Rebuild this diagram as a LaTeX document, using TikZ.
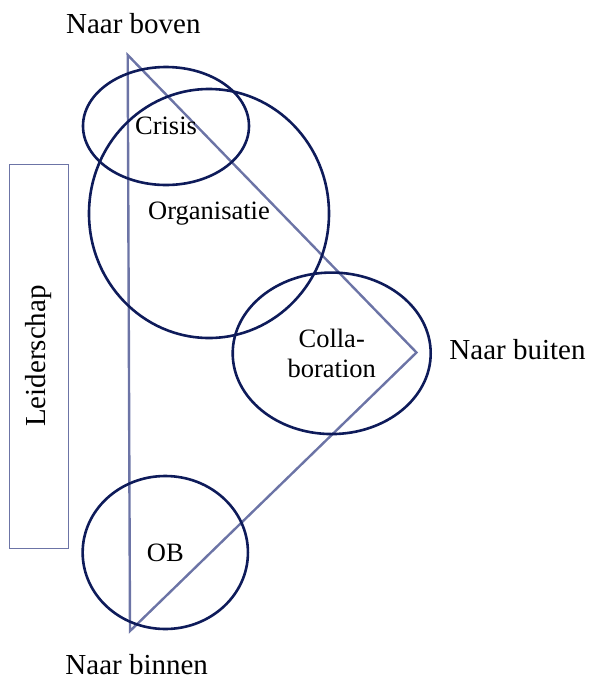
\documentclass[tikz,border=0pt]{standalone}
\usepackage{fontspec}
\setmainfont{Liberation Serif}
\usetikzlibrary{shapes.geometric}
\definecolor{ringblue}{RGB}{14,27,90}
\definecolor{edgeblue}{RGB}{108,116,166}

\begin{document}
\begin{tikzpicture}[x = 1pt, y = -1pt,
    ring/.style = {ellipse, draw = ringblue, line width = 2.6pt, inner sep = 0pt,
      align = center, font = \fontsize{26.5}{30}\selectfont},
    side/.style = {anchor = base, font = \fontsize{29}{34}\selectfont},
    leadbox/.style = {draw = edgeblue, line width = 1pt, rotate = 90, inner sep = 0pt,
      minimum width = 384, minimum height = 58.7, font = \fontsize{29}{34}\selectfont}]
    \useasboundingbox (0,0) rectangle (590,681);

    % directions of the triangle
    \coordinate (up) at (127.7,55);
    \coordinate (out) at (416.5,352.5);
    \coordinate (down) at (130,631);
    \draw[edgeblue, line width = 2.4pt] (up) -- (out) -- (down) -- cycle;

    \node[ring, minimum width = 166, minimum height = 118] (crisis) at (166,126) {Crisis};
    \node[ring, minimum width = 240, minimum height = 249] (org) at (209,213.5) {Organisatie};
    \node[ring, minimum width = 198, minimum height = 161.5] (collab) at (331.7,353.3) {Colla-\\boration};
    \node[ring, minimum width = 165.3, minimum height = 153] (ob) at (165.3,552.5) {OB};

    \node[leadbox] (lead) at (38.7,356) {Leiderschap};

    \node[side] (boven) at (133.3,33.3) {Naar boven};
    \node[side] (buiten) at (517.5,359) {Naar buiten};
    \node[side] (binnen) at (136.7,674.5) {Naar binnen};
  \end{tikzpicture}
\end{document}
